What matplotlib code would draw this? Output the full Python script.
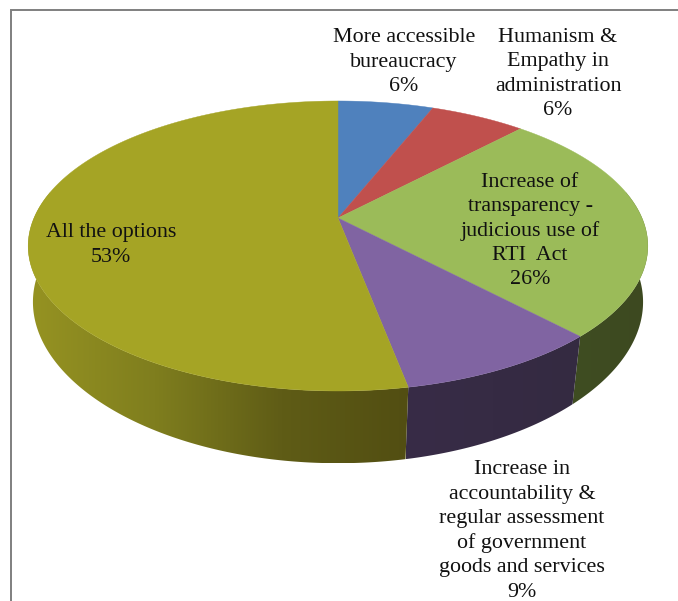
import numpy as np
import matplotlib
matplotlib.use("Agg")
import matplotlib.pyplot as plt
from matplotlib.patches import Polygon
from matplotlib.colors import LinearSegmentedColormap

labels = ["More accessible\nbureaucracy",
          "Humanism &\nEmpathy in\nadministration",
          "Increase of\ntransparency -\njudicious use of\nRTI  Act",
          "Increase in\naccountability &\nregular assessment\nof government\ngoods and services",
          "All the options"]
values = [6, 6, 26, 9, 53]
top_colors = ["#4f81bd", "#c0504d", "#9bbb59", "#8064a2", "#a5a425"]
side_colors = [["#2f4d71", "#2f4d71"],
               ["#73302e", "#73302e"],
               ["#3f4d22", "#3d4920"],
               ["#382c47", "#342a41"],
               ["#969322", "#7f7e1e", "#5f5c16", "#524e12"]]
label_x = [404, 558, 530, 522, 111]
label_y = [62, 74, 231, 531, 245]

# pie geometry in pixels, with a simple perspective so the near edge is bigger
cx, cy = 338, 218
rx, ry = 304, 139.6
persp = 0.193


def rim(angles):
    px = np.sin(angles)
    py = -np.cos(angles)
    w = 1 - persp * py
    return rx * px / w, ry * py / w


def angle_range(start, stop):
    n = max(int(abs(stop - start) * 90), 2)
    return np.linspace(start, stop, n)


fig = plt.figure(figsize=(6.78, 6.01), dpi=100)
ax = fig.add_axes([0, 0, 1, 1])
ax.set_xlim(0, 678)
ax.set_ylim(601, 0)
ax.axis("off")

edges = np.cumsum([0] + values) * 2 * np.pi / sum(values)

# only the part of the wall facing us is drawn
wall_start = np.pi / 2 - np.arcsin(persp)
wall_stop = 3 * np.pi / 2 + np.arcsin(persp)

for i in range(len(values)):
    a0 = max(edges[i], wall_start)
    a1 = min(edges[i + 1], wall_stop)
    if a1 <= a0:
        continue
    t = angle_range(a0, a1)
    x, y = rim(t)
    # lower rim sits further from the viewer, so it narrows toward the front
    x_low = x * (0.99 + 0.03 * np.cos(t))
    y_low = y * 1.08 + 58.4
    pts = np.vstack([np.column_stack([cx + x, cy + y]),
                     np.column_stack([cx + x_low, cy + y_low])[::-1]])
    poly = Polygon(pts, closed=True, facecolor="none", edgecolor="none")
    ax.add_patch(poly)
    left, right = pts[:, 0].min(), pts[:, 0].max()
    top, bottom = pts[:, 1].min(), pts[:, 1].max()
    cmap = LinearSegmentedColormap.from_list("wall", side_colors[i])
    img = ax.imshow(np.linspace(0, 1, 256)[None, :], cmap=cmap, aspect="auto",
                    extent=[left, right, bottom, top], zorder=2)
    img.set_clip_path(poly)

ax.set_xlim(0, 678)
ax.set_ylim(601, 0)

for i in range(len(values)):
    x, y = rim(angle_range(edges[i], edges[i + 1]))
    pts = np.vstack([[cx, cy], np.column_stack([cx + x, cy + y])])
    ax.add_patch(Polygon(pts, closed=True, facecolor=top_colors[i],
                         edgecolor=top_colors[i], linewidth=0.3, zorder=3))

for i in range(len(values)):
    ax.text(label_x[i], label_y[i], f"{labels[i]}\n{values[i]}%",
            ha="center", va="center", ma="center", family="Liberation Serif",
            fontsize=15.8, linespacing=1.37, color="#111111", zorder=4)

# frame around the slide, only left and top show
ax.plot([11, 11, 678], [601, 10, 10], color="#7f7f7f", linewidth=1.4,
        solid_joinstyle="miter", zorder=1)

fig.savefig("out.png", dpi=100)
